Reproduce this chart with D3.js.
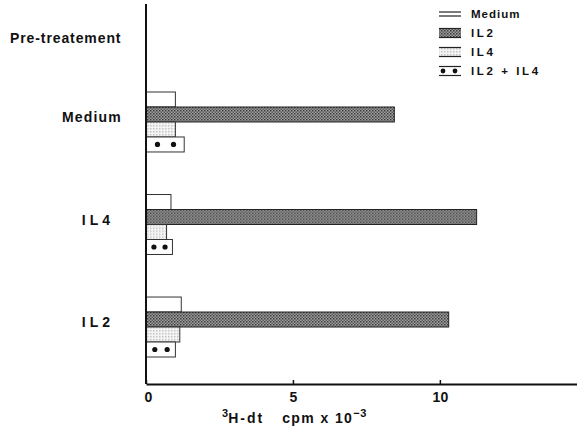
<!DOCTYPE html>
<html>
<head>
<meta charset="utf-8">
<script src="https://cdn.jsdelivr.net/npm/d3@7"></script>
<style>
  html, body { margin: 0; padding: 0; background: #fff; }
  svg { display: block; font-family: "Liberation Sans", Arial, sans-serif; }
  .lbl { font-weight: bold; fill: #111; }
</style>
</head>
<body>
<svg id="chart" width="577" height="428"></svg>
<script>
// pre-treatment groups (top to bottom) and the four culture conditions
const groups = ["Medium", "IL4", "IL2"];
const series = ["Medium", "IL2", "IL4", "IL2 + IL4"];
// 3H-dt uptake, cpm x 10^-3, one value per group
const medium = [1.0, 0.85, 1.2];
const il2 = [8.45, 11.25, 10.3];
const il4 = [1.0, 0.7, 1.15];
const il2il4 = [1.3, 0.9, 1.0];
const xTicks = [0, 5, 10];

const values = [medium, il2, il4, il2il4];

const svg = d3.select("#chart");
const W = 577;
const m = { left: 146, top: 4, bottom: 384 };

// fill patterns: dense dark screen for IL2, pale screen for IL4
const defs = svg.append("defs");
const p2 = defs.append("pattern").attr("id", "pIL2")
  .attr("width", 3).attr("height", 3).attr("patternUnits", "userSpaceOnUse");
p2.append("rect").attr("width", 3).attr("height", 3).attr("fill", "#a0a0a0");
p2.append("rect").attr("width", 1.5).attr("height", 1.5).attr("fill", "#3a3a3a");
p2.append("rect").attr("x", 1.5).attr("y", 1.5).attr("width", 1.5).attr("height", 1.5).attr("fill", "#5a5a5a");
const p4 = defs.append("pattern").attr("id", "pIL4")
  .attr("width", 3).attr("height", 3).attr("patternUnits", "userSpaceOnUse");
p4.append("rect").attr("width", 3).attr("height", 3).attr("fill", "#f4f4f4");
p4.append("rect").attr("width", 1.5).attr("height", 1.5).attr("fill", "#c4c4c4");
const fills = ["#fff", "url(#pIL2)", "url(#pIL4)", "#fff"];

const x = d3.scaleLinear([0, 14.7], [m.left, W + 1]);
const y = d3.scaleBand(groups, [92, 357]).paddingInner(0.415).paddingOuter(0);
const yi = d3.scaleBand(series, [0, y.bandwidth()]);

// bars
groups.forEach((g, gi) => {
  const row = svg.append("g").attr("transform", `translate(0,${y(g)})`);
  series.forEach((s, si) => {
    const v = values[si][gi];
    row.append("rect")
      .attr("x", x(0)).attr("y", yi(s))
      .attr("width", x(v) - x(0)).attr("height", yi.bandwidth())
      .attr("fill", fills[si])
      .attr("stroke", si === 1 ? "#222" : "#333").attr("stroke-width", 1);
    if (si === 3) {
      for (const f of [0.3, 0.72]) {
        row.append("circle")
          .attr("cx", x(v * f)).attr("cy", yi(s) + yi.bandwidth() / 2)
          .attr("r", 2.6).attr("fill", "#111");
      }
    }
  });
  // group label
  svg.append("text").attr("class", "lbl")
    .attr("x", g === "Medium" ? 122 : 114).attr("y", y(g) + yi(series[2]))
    .attr("text-anchor", "end")
    .attr("font-size", 14)
    .attr("letter-spacing", g === "Medium" ? 1.2 : 4)
    .text(g);
});

svg.append("text").attr("class", "lbl")
  .attr("x", 10).attr("y", 43).attr("font-size", 14).attr("letter-spacing", 0.9)
  .text("Pre-treatement");

// axes
svg.append("line").attr("x1", m.left).attr("x2", m.left)
  .attr("y1", m.top).attr("y2", m.bottom).attr("stroke", "#111").attr("stroke-width", 2);
const ax = svg.append("g").attr("transform", `translate(0,${m.bottom})`)
  .call(d3.axisBottom(x).tickValues(xTicks).tickSize(-4).tickPadding(8).tickSizeOuter(0));
ax.select(".domain").attr("stroke", "#111").attr("stroke-width", 2);
ax.selectAll(".tick line").attr("stroke", "#111").attr("stroke-width", 1.5);
ax.selectAll(".tick text").attr("class", "lbl").attr("font-size", 14)
  .attr("font-family", "Liberation Sans, Arial, sans-serif");
ax.select(".tick text").attr("dx", 2);

const xl = svg.append("text").attr("x", 222).attr("y", 423)
  .attr("font-size", 14).attr("font-weight", "bold").attr("fill", "#111")
  .style("white-space", "pre");
xl.append("tspan").attr("font-size", 11).attr("dy", -6).text("3");
xl.append("tspan").attr("dy", 6).attr("letter-spacing", 2).text("H-dt");
xl.append("tspan").attr("dx", 18).attr("letter-spacing", 1.4).text("cpm x 10");
xl.append("tspan").attr("font-size", 11).attr("dy", -6).attr("letter-spacing", 0.5).text("−3");

// legend
const legY = d3.scalePoint(series, [14, 71]);
series.forEach((s, si) => {
  const cy = legY(s);
  const lg = svg.append("g");
  const h = si === 0 ? 4 : 9;
  lg.append("rect").attr("x", 439).attr("y", cy - h / 2).attr("width", 22).attr("height", h)
    .attr("fill", fills[si]);
  for (const yy of [cy - h / 2, cy + h / 2]) {
    lg.append("line").attr("x1", 439).attr("x2", 461).attr("y1", yy).attr("y2", yy)
      .attr("stroke", "#222").attr("stroke-width", 1.2);
  }
  if (si === 3) {
    for (const cx of [443, 455]) {
      lg.append("circle").attr("cx", cx).attr("cy", cy).attr("r", 2.4).attr("fill", "#111");
    }
  }
  lg.append("text").attr("class", "lbl").attr("x", 471).attr("y", cy + 4)
    .attr("font-size", 11.5).attr("letter-spacing", si === 0 ? 1 : 2.6)
    .style("white-space", "pre")
    .text(s);
});
</script>
</body>
</html>
